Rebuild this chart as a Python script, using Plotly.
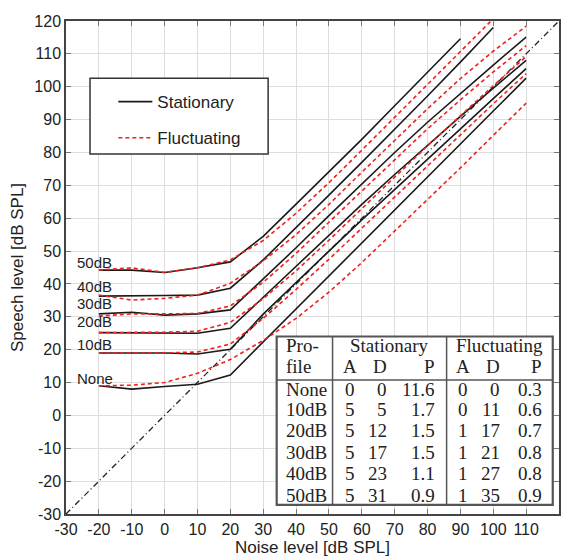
import plotly.graph_objects as go

# ---------------- data ----------------
noise = [-20, -10, 0, 10, 20, 30, 40, 50, 60, 70, 80, 90, 100, 110]

stat_none = [9.0, 8.0, 8.8, 9.5, 12.3, 22.3, 32.5, 42.5, 52.5, 62.5, 72.5, 82.5, 92.6, 102.6]
stat_10 = [19.0, 19.0, 19.0, 18.7, 20.1, 30.8, 40.5, 50.0, 59.5, 68.8, 78.0, 87.2, 96.4, 105.5]
stat_20 = [25.2, 25.2, 25.0, 25.0, 26.5, 36.0, 45.5, 55.0, 64.2, 73.3, 82.2, 91.0, 99.6, 108.0]
stat_30 = [30.9, 31.4, 30.5, 30.9, 32.1, 41.5, 51.0, 60.8, 70.5, 80.0, 89.2, 98.0, 106.6, 115.1]
stat_40 = [36.3, 36.5, 36.5, 36.6, 38.7, 47.3, 57.0, 67.0, 77.0, 87.0, 97.2, 107.5, 118.0]
stat_50 = [44.2, 44.2, 43.5, 44.9, 46.7, 54.5, 64.3, 74.0, 84.0, 94.2, 104.4, 114.6]

fluc_none = [9.0, 9.2, 10.0, 12.8, 17.0, 22.8, 29.5, 37.5, 46.5, 56.0, 65.5, 75.3, 85.2, 95.0]
fluc_10 = [19.0, 19.0, 19.0, 19.3, 21.7, 29.5, 38.3, 47.5, 57.0, 66.5, 76.0, 85.5, 94.8, 104.0]
fluc_20 = [25.2, 25.2, 25.3, 25.6, 28.3, 35.5, 44.0, 53.3, 63.0, 72.5, 82.0, 91.3, 100.3, 109.2]
fluc_30 = [30.2, 30.9, 30.9, 31.0, 33.3, 40.5, 49.3, 58.8, 68.5, 78.0, 87.2, 96.0, 104.5, 112.5]
fluc_40 = [36.6, 35.1, 35.6, 36.6, 40.2, 47.0, 55.0, 64.2, 74.0, 83.8, 93.3, 102.5, 110.8, 118.4]
fluc_50 = [44.2, 44.9, 43.5, 44.9, 47.3, 53.2, 61.5, 70.8, 80.7, 90.7, 100.7, 110.7, 120.7]

diag = [-30, 120]

tick_vals = [-30, -20, -10, 0, 10, 20, 30, 40, 50, 60, 70, 80, 90, 100, 110, 120]
tick_text = ["-30", "-20", "-10", "0", "10", "20", "30", "40", "50", "60",
             "70", "80", "90", "100", "110", "120"]

profiles = ["None", "10dB", "20dB", "30dB", "40dB", "50dB"]
profile_label_y = [11.3, 21.7, 28.5, 33.9, 39.2, 46.5]

stat_series = [stat_none, stat_10, stat_20, stat_30, stat_40, stat_50]
fluc_series = [fluc_none, fluc_10, fluc_20, fluc_30, fluc_40, fluc_50]

# table contents
tab_header1 = ["Pro-", "Stationary", "Fluctuating"]
tab_header2 = ["file", "A", "D", "P", "A", "D", "P"]
stat_A = ["0", "5", "5", "5", "5", "5"]
stat_D = ["0", "5", "12", "17", "23", "31"]
stat_P = ["11.6", "1.7", "1.5", "1.5", "1.1", "0.9"]
fluc_A = ["0", "0", "1", "1", "1", "1"]
fluc_D = ["0", "11", "17", "21", "27", "35"]
fluc_P = ["0.3", "0.6", "0.7", "0.8", "0.8", "0.9"]

# ---------------- figure ----------------
fig = go.Figure()

fig.add_trace(go.Scatter(x=diag, y=diag, mode="lines", showlegend=False,
                         line=dict(color="#222222", width=1.3, dash="6px,3px,1px,3px"),
                         hoverinfo="skip"))

for i, ys in enumerate(stat_series):
    fig.add_trace(go.Scatter(x=noise[:len(ys)], y=ys, mode="lines",
                             name="Stationary", legendgroup="stat",
                             showlegend=(i == 0),
                             line=dict(color="#1a1a1a", width=1.6)))
for i, ys in enumerate(fluc_series):
    fig.add_trace(go.Scatter(x=noise[:len(ys)], y=ys, mode="lines",
                             name="Fluctuating", legendgroup="fluc",
                             showlegend=(i == 0),
                             line=dict(color="#f02020", width=1.6, dash="4px,3px")))

annotations = []
for name, yv in zip(profiles, profile_label_y):
    annotations.append(dict(x=-27.2, y=yv, xref="x", yref="y", text=name,
                            showarrow=False, xanchor="left", yanchor="middle",
                            font=dict(family="Liberation Sans, Arial, sans-serif",
                                      size=15, color="#222222")))

# table layout (data coordinates)
tx0, tx1, ty0, ty1 = 34.1, 118.1, -27.2, 24.0
sep_y = 10.8
vline_x = [51.1, 85.8]
row_y = [21.4, 14.8, 8.0, 1.7, -4.7, -11.3, -17.8, -24.4]
tfont = dict(family="Liberation Serif, DejaVu Serif, serif", size=19, color="#222222")

def tann(x, y, text, anchor):
    annotations.append(dict(x=x, y=y, xref="x", yref="y", text=text, showarrow=False,
                            xanchor=anchor, yanchor="middle", font=tfont))

tann(36.4, row_y[0], tab_header1[0], "left")
tann(68.3, row_y[0], tab_header1[1], "center")
tann(101.8, row_y[0], tab_header1[2], "center")
hdr_x = [36.4, 56.4, 68.3, 83.0, 90.7, 102.8, 115.4]
hdr_anchor = ["left", "center", "right", "right", "center", "right", "right"]
for t, x, a in zip(tab_header2, hdr_x, hdr_anchor):
    tann(x, row_y[1], t, a)
for r, name in enumerate(profiles):
    y = row_y[r + 2]
    vals = [name, stat_A[r], stat_D[r], stat_P[r], fluc_A[r], fluc_D[r], fluc_P[r]]
    for t, x, a in zip(vals, hdr_x, hdr_anchor):
        tann(x, y, t, a)

shapes = [
    # legend box
    dict(type="rect", xref="paper", yref="paper", x0=0.0487, x1=0.410, y0=0.730, y1=0.884,
         fillcolor="white", line=dict(color="#333333", width=1.5), layer="above"),
    # table box
    dict(type="rect", xref="x", yref="y", x0=tx0, x1=tx1, y0=ty0, y1=ty1,
         fillcolor="white", line=dict(color="#555555", width=2.2), layer="above"),
    dict(type="line", xref="x", yref="y", x0=tx0, x1=tx1, y0=sep_y, y1=sep_y,
         line=dict(color="#555555", width=1.5), layer="above"),
]
for vx in vline_x:
    shapes.append(dict(type="line", xref="x", yref="y", x0=vx, x1=vx, y0=ty0, y1=ty1,
                       line=dict(color="#555555", width=1.5), layer="above"))

axis_common = dict(range=[-30, 120], tickmode="array", tickvals=tick_vals, ticktext=tick_text,
                   showgrid=True, automargin=False,
                   gridcolor="#dddddd", gridwidth=1.2, zeroline=False,
                   showline=True, linecolor="#444444", linewidth=1.5, mirror="ticks",
                   ticks="inside", ticklen=5, tickcolor="#777777",
                   tickfont=dict(family="Liberation Sans, Arial, sans-serif", size=16,
                                 color="#222222"))

fig.update_layout(
    width=572, height=558,
    margin=dict(l=66, r=13, t=21, b=44),
    paper_bgcolor="white", plot_bgcolor="white",
    xaxis=dict(axis_common, title=dict(text="Noise level [dB SPL]", standoff=4,
               font=dict(family="Liberation Sans, Arial, sans-serif", size=17, color="#222222"))),
    yaxis=dict(axis_common, title=dict(text="Speech level [dB SPL]", standoff=6,
               font=dict(family="Liberation Sans, Arial, sans-serif", size=17, color="#222222"))),
    legend=dict(x=0.096, y=0.872, xanchor="left", yanchor="top",
                bgcolor="rgba(0,0,0,0)", borderwidth=0, tracegroupgap=11,
                itemwidth=34,
                font=dict(family="Liberation Sans, Arial, sans-serif", size=17, color="#222222")),
    annotations=annotations,
    shapes=shapes,
    showlegend=True,
)

fig.write_html("out.html")
